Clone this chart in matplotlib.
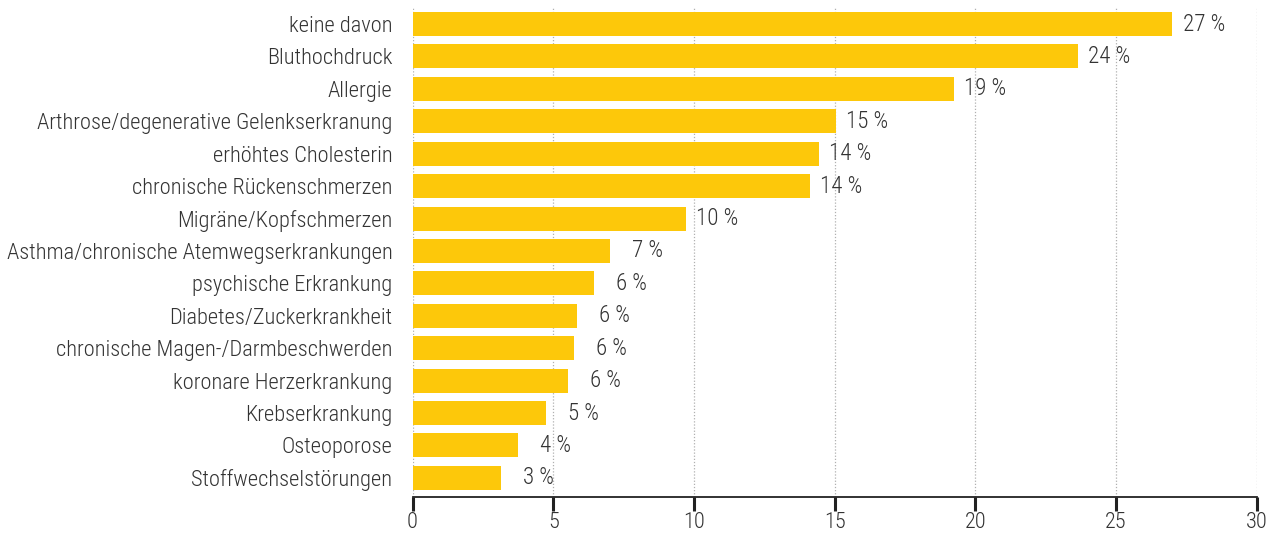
import matplotlib
matplotlib.use("Agg")
import matplotlib.pyplot as plt

categories = [
    "keine davon",
    "Bluthochdruck",
    "Allergie",
    "Arthrose/degenerative Gelenkserkranung",
    "erhöhtes Cholesterin",
    "chronische Rückenschmerzen",
    "Migräne/Kopfschmerzen",
    "Asthma/chronische Atemwegserkrankungen",
    "psychische Erkrankung",
    "Diabetes/Zuckerkrankheit",
    "chronische Magen-/Darmbeschwerden",
    "koronare Herzerkrankung",
    "Krebserkrankung",
    "Osteoporose",
    "Stoffwechselstörungen",
]
values = [27.0, 23.65, 19.24, 15.04, 14.45, 14.13, 9.72, 7.02, 6.45, 5.85, 5.74, 5.53, 4.74, 3.75, 3.15]
value_labels = ["27 %", "24 %", "19 %", "15 %", "14 %", "14 %", "10 %", "7 %", "6 %", "6 %", "6 %", "6 %", "5 %", "4 %", "3 %"]
x_ticks = [0, 5, 10, 15, 20, 25, 30]

COND = ["Roboto Condensed", "Liberation Sans Narrow", "DejaVu Sans"]
plt.rcParams["font.family"] = COND
plt.rcParams["font.weight"] = 300

W, H = 1267, 534
fig = plt.figure(figsize=(W / 100, H / 100), dpi=100)
left = 412.5 / W
right = 1256.7 / W
bottom = 1 - 497 / H
top = 1 - 7.8 / H
ax = fig.add_axes([left, bottom, right - left, top - bottom])

y = list(range(len(categories)))
ax.barh(y, values, height=0.74, color="#FDC80A", zorder=2)
ax.set_ylim(14.59, -0.5)
ax.set_xlim(0, 30)
ax.set_xticks(x_ticks)
ax.set_yticks(y)
ax.set_yticklabels(categories, fontsize=16.1, color="#333333", fontweight=300)
ax.tick_params(axis="y", length=0, pad=14.5)
ax.tick_params(axis="x", length=9.8, width=2.2, color="#222222", labelsize=16,
               labelcolor="#333333", pad=1)
for t in ax.get_xticklabels():
    t.set_fontweight(300)

for s in ["top", "right", "left"]:
    ax.spines[s].set_visible(False)
ax.spines["bottom"].set_color("#222222")
ax.spines["bottom"].set_linewidth(1.3)

ax.grid(axis="x", color="#b0b0b0", linestyle=(0, (1, 1.5)), linewidth=0.9, zorder=0)
ax.set_axisbelow(True)

for yi, v, lab in zip(y, values, value_labels):
    ax.annotate(lab, xy=(v, yi), xytext=(52.5 * 0.72, 0), textcoords="offset points",
                ha="right", va="center", fontsize=16.6, color="#333333", fontweight=300)

fig.savefig("out.png", dpi=100)
